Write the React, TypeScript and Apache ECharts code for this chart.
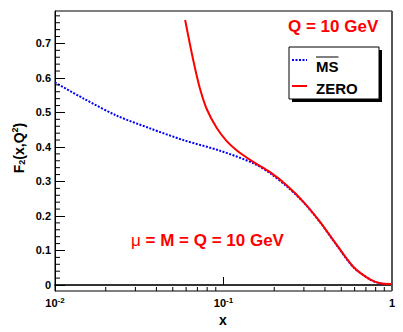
import React, { useEffect, useRef } from "react";
import * as echarts from "echarts";

// ---- data ----
const msbarX = [0.01, 0.0147, 0.0232, 0.0366, 0.0577, 0.0955, 0.15, 0.189, 0.237, 0.298, 0.374, 0.47, 0.589, 0.74, 0.849, 0.973, 1.0];
const msbarY = [0.587, 0.541, 0.491, 0.454, 0.42, 0.389, 0.353, 0.324, 0.286, 0.24, 0.182, 0.115, 0.052, 0.016, 0.005, 0.003, 0.003];
const zeroX = [0.0592, 0.0633, 0.0677, 0.0726, 0.0795, 0.0912, 0.1045, 0.12, 0.15, 0.189, 0.237, 0.298, 0.374, 0.47, 0.589, 0.74, 0.849, 0.973, 1.0];
const zeroY = [0.768, 0.696, 0.629, 0.568, 0.51, 0.455, 0.417, 0.39, 0.357, 0.327, 0.289, 0.241, 0.183, 0.116, 0.053, 0.016, 0.005, 0.003, 0.003];
const yTickValues = [0, 0.1, 0.2, 0.3, 0.4, 0.5, 0.6, 0.7];
const yMinorValues = [0.02, 0.04, 0.06, 0.08, 0.12, 0.14, 0.16, 0.18, 0.22, 0.24, 0.26, 0.28, 0.32, 0.34, 0.36, 0.38, 0.42, 0.44, 0.46, 0.48, 0.52, 0.54, 0.56, 0.58, 0.62, 0.64, 0.66, 0.68, 0.72, 0.74, 0.76, 0.78];
const xMinorValues = [0.02, 0.03, 0.04, 0.05, 0.06, 0.07, 0.08, 0.09, 0.2, 0.3, 0.4, 0.5, 0.6, 0.7, 0.8, 0.9];
const seriesNames = ["MSbar", "ZERO"];
const Y_MIN = -0.0174;
const Y_MAX = 0.794;
const X_MIN = 0.01;
const X_MAX = 1;

const FONT = "'Liberation Sans', Arial, Helvetica, sans-serif";

export default function App() {
  const ref = useRef<HTMLDivElement>(null);
  useEffect(() => {
    if (!ref.current) return;
    const chart = echarts.init(ref.current, undefined, { renderer: "svg" });
    const option: any = {
      animation: false,
      backgroundColor: "#fff",
      textStyle: { fontFamily: FONT },
      grid: {
        left: 55,
        right: 11,
        top: 11,
        bottom: 41,
        show: true,
        borderColor: "#000",
        borderWidth: 1,
        backgroundColor: "transparent",
      },
      xAxis: {
        type: "log",
        logBase: 10,
        min: X_MIN,
        max: X_MAX,
        axisLine: { show: true, lineStyle: { color: "#333", width: 2 } },
        axisTick: { show: true, inside: true, length: 8, lineStyle: { color: "#000", width: 1 } },
        splitLine: { show: false },
        minorTick: { show: false },
        axisLabel: {
          show: true,
          margin: 5,
          color: "#000",
          showMinLabel: true,
          showMaxLabel: true,
          formatter: (v: number) => {
            const e = Math.round(Math.log10(v));
            if (e === 0) return "{b|1}";
            return "{b|10}{s|" + e + "}";
          },
          rich: {
            b: { fontSize: 11, fontWeight: "bold", fontFamily: FONT, color: "#000", lineHeight: 14 },
            s: { fontSize: 8, fontWeight: "bold", fontFamily: FONT, color: "#000", lineHeight: 14, padding: [0, 0, 6, 0] },
          },
        },
      },
      yAxis: {
        type: "value",
        min: Y_MIN,
        max: Y_MAX,
        axisLine: { show: true, lineStyle: { color: "#000", width: 1 } },
        axisTick: {
          show: true,
          inside: true,
          length: 10,
          customValues: yTickValues,
          lineStyle: { color: "#000", width: 1 },
        },
        splitLine: { show: false },
        axisLabel: {
          show: true,
          margin: 4,
          color: "#000",
          fontSize: 11,
          fontWeight: "bold",
          fontFamily: FONT,
          customValues: yTickValues,
          formatter: (v: number) => (Math.abs(v) < 1e-9 ? "0" : v.toFixed(1)),
        },
      },
      series: [
        {
          name: seriesNames[0],
          type: "line",
          data: msbarX.map((x, i) => [x, msbarY[i]]),
          showSymbol: false,
          symbol: "none",
          smooth: 0.3,
          lineStyle: { color: "#0000ff", width: 2, type: [2, 1.5] },
          z: 3,
        },
        {
          name: seriesNames[1],
          type: "line",
          data: zeroX.map((x, i) => [x, zeroY[i]]),
          showSymbol: false,
          symbol: "none",
          smooth: 0.3,
          lineStyle: { color: "#ff0000", width: 2 },
          z: 4,
        },
        {
          type: "custom",
          name: "xminor",
          silent: true,
          data: xMinorValues.map((v) => [v, Y_MIN]),
          renderItem: (_p: any, api: any) => {
            const pt = api.coord([api.value(0), Y_MIN]);
            return {
              type: "line",
              shape: { x1: pt[0], y1: pt[1], x2: pt[0], y2: pt[1] - 4 },
              style: { stroke: "#000", lineWidth: 1 },
            };
          },
          z: 5,
        },
        {
          type: "custom",
          name: "yminor",
          silent: true,
          data: yMinorValues.map((v) => [X_MIN, v]),
          renderItem: (_p: any, api: any) => {
            const pt = api.coord([X_MIN, api.value(1)]);
            return {
              type: "line",
              shape: { x1: pt[0], y1: pt[1], x2: pt[0] + 5, y2: pt[1] },
              style: { stroke: "#000", lineWidth: 1 },
            };
          },
          z: 5,
        },
      ],
      graphic: [
        { type: "line", shape: { x1: 392, y1: 11, x2: 392, y2: 291 }, style: { stroke: "#555", lineWidth: 2 }, z: 10 },
        {
          type: "text",
          left: 288,
          top: 18,
          style: { text: "Q = 10 GeV", fill: "#ff0000", font: "bold 17px " + FONT },
          z: 10,
        },
        {
          type: "text",
          left: 131,
          top: 232,
          style: {
            text: "{m|μ}{t| = M = Q = 10 GeV}",
            rich: {
              m: { fill: "#ff0000", fontSize: 17, fontFamily: FONT, fontWeight: "normal" },
              t: { fill: "#ff0000", fontSize: 17, fontFamily: FONT, fontWeight: "bold" },
            },
          },
          z: 10,
        },
        { type: "rect", shape: { x: 292, y: 50, width: 90, height: 52 }, style: { fill: "#000" }, z: 10 },
        { type: "rect", shape: { x: 289, y: 47, width: 90, height: 52 }, style: { fill: "#fff", stroke: "#000", lineWidth: 1 }, z: 11 },
        { type: "line", shape: { x1: 292, y1: 60, x2: 307, y2: 60 }, style: { stroke: "#0000ff", lineWidth: 2, lineDash: [2, 1.5] }, z: 12 },
        { type: "line", shape: { x1: 316, y1: 57, x2: 338.5, y2: 57 }, style: { stroke: "#000", lineWidth: 1 }, z: 12 },
        {
          type: "text",
          x: 316,
          y: 66,
          style: { text: "MS", fill: "#000", font: "bold 15px " + FONT, verticalAlign: "middle" },
          z: 12,
        },
        { type: "line", shape: { x1: 292, y1: 86, x2: 307, y2: 86 }, style: { stroke: "#ff0000", lineWidth: 2 }, z: 12 },
        {
          type: "text",
          x: 316,
          y: 88,
          style: { text: "ZERO", fill: "#000", font: "bold 15px " + FONT, verticalAlign: "middle" },
          z: 12,
        },
        {
          type: "text",
          x: 223,
          y: 320,
          style: { text: "x", fill: "#000", font: "bold 14px " + FONT, align: "center", verticalAlign: "middle" },
          z: 12,
        },
        {
          type: "text",
          x: 19,
          y: 148,
          rotation: Math.PI / 2,
          style: {
            text: "{a|F}{sub|2}{a|(x,Q}{sup|2}{a|)}",
            align: "center",
            verticalAlign: "middle",
            rich: {
              a: { fill: "#000", fontSize: 14, fontWeight: "bold", fontFamily: FONT, lineHeight: 18 },
              sub: { fill: "#000", fontSize: 9, fontWeight: "bold", fontFamily: FONT, lineHeight: 18, padding: [6, 0, 0, 0] },
              sup: { fill: "#000", fontSize: 9, fontWeight: "bold", fontFamily: FONT, lineHeight: 18, padding: [0, 0, 8, 0] },
            },
          },
          z: 12,
        },
      ],
    };
    chart.setOption(option);
    return () => chart.dispose();
  }, []);
  return (
    <div
      ref={ref}
      style={{ position: "fixed", left: 0, top: 0, width: 403, height: 332 }}
    />
  );
}
